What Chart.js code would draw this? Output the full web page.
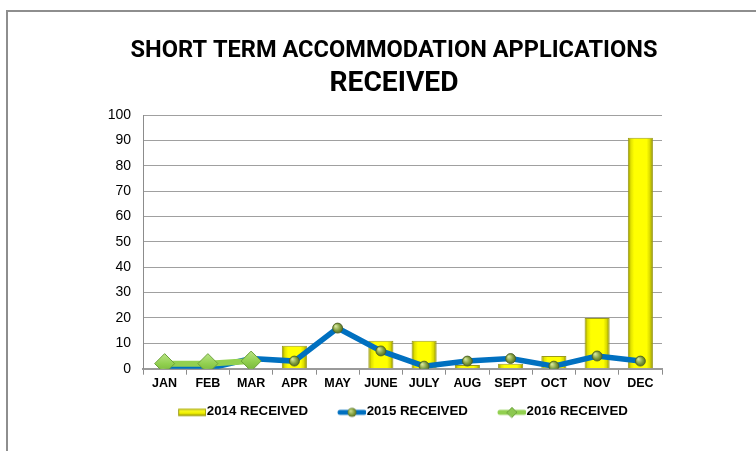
<!DOCTYPE html>
<html><head><meta charset="utf-8">
<script src="https://cdn.jsdelivr.net/npm/chart.js@4"></script>
<style>
html,body{margin:0;padding:0;background:#fff;overflow:hidden}
#wrap{position:relative;width:756px;height:451px;overflow:hidden}
#frame{position:absolute;left:6px;top:10px;width:800px;height:500px;border-left:2px solid #8e8e8e;border-top:2px solid #8e8e8e}
canvas{position:absolute;left:0;top:0}
</style></head>
<body><div id="wrap"><div id="frame"></div><canvas id="c" width="756" height="451"></canvas></div>
<script>
const titleLine1 = 'SHORT TERM ACCOMMODATION APPLICATIONS';
const titleLine2 = 'RECEIVED';
const categories = ['JAN','FEB','MAR','APR','MAY','JUNE','JULY','AUG','SEPT','OCT','NOV','DEC'];
const received2014 = [0, 0, 0, 9, 0, 11, 11, 1.5, 2, 5, 20, 91];
const received2015 = [0, 0, 4, 3, 16, 7, 1, 3, 4, 1, 5, 3];
const received2016 = [2, 2, 3];
const seriesNames = ['2014 RECEIVED', '2015 RECEIVED', '2016 RECEIVED'];
const yMin = 0, yMax = 100, yStep = 10;

// --- fonts
const mctx = document.createElement('canvas').getContext('2d');
function hasFont(name){
  mctx.font = 'bold 24px monospace'; const a = mctx.measureText('SHORT TERM ACCOM WwIi').width;
  mctx.font = 'bold 24px "' + name + '", monospace'; const b = mctx.measureText('SHORT TERM ACCOM WwIi').width;
  return Math.abs(a-b) > 0.5;
}
const titleFamily = hasFont('Liberation Sans Narrow') ? '"Liberation Sans Narrow"' : 'Roboto';
function fitSize(text, target){
  mctx.font = 'bold 100px ' + titleFamily;
  return 100 * target / mctx.measureText(text).width;
}
const t1Size = fitSize(titleLine1, 527);
const t2Size = fitSize(titleLine2, 129);
const LH = 1.2;
const t1Pad = 51 - t1Size*LH/2;
const t1Bottom = t1Pad + t1Size*LH;
const t2Top = 84 - t2Size*LH/2;
const t2PadTop = Math.max(0, t2Top - t1Bottom);
const t2PadBottom = 115 - (t1Bottom + t2PadTop + t2Size*LH);

// --- legend symbols
function legendCanvas(kind){
  const c = document.createElement('canvas'); c.width = 52; c.height = 16;
  const g = c.getContext('2d');
  const x0 = 24, x1 = 52, cy = 9;
  if (kind === 0){
    const gr = g.createLinearGradient(0, cy-4, 0, cy+4);
    gr.addColorStop(0,'#ffff40'); gr.addColorStop(0.6,'#f0f000'); gr.addColorStop(1,'#a0a000');
    g.fillStyle = gr; g.fillRect(x0, cy-3.5, 28, 7);
    g.strokeStyle = '#9a9a10'; g.lineWidth = 1; g.strokeRect(x0+0.5, cy-3, 27, 6);
  } else {
    g.strokeStyle = kind === 1 ? '#0070C0' : '#92D050';
    g.lineWidth = 5; g.lineCap = 'round';
    g.beginPath(); g.moveTo(x0+2, cy); g.lineTo(x1-2, cy); g.stroke();
    const mx = (x0+x1)/2;
    if (kind === 1){
      const rg = g.createRadialGradient(mx-1.5, cy-1.5, 0.5, mx, cy, 5);
      rg.addColorStop(0,'#c9dc8a'); rg.addColorStop(0.6,'#7d9a3a'); rg.addColorStop(1,'#4a5d23');
      g.fillStyle = rg; g.beginPath(); g.arc(mx, cy, 4.5, 0, Math.PI*2); g.fill();
    } else {
      g.fillStyle = '#8cc850'; g.strokeStyle = '#6ca23a'; g.lineWidth = 1;
      g.beginPath(); g.moveTo(mx-5, cy); g.lineTo(mx, cy-5); g.lineTo(mx+5, cy); g.lineTo(mx, cy+5); g.closePath(); g.fill(); g.stroke();
    }
  }
  return c;
}
const legendSymbols = [legendCanvas(0), legendCanvas(1), legendCanvas(2)];

// --- scriptable styles
function barGradient(ctx){
  const chart = ctx.chart, xs = chart.scales && chart.scales.x;
  if (!chart.chartArea || !xs || ctx.type !== 'data') return '#ffff00';
  const cx = xs.getPixelForValue(ctx.dataIndex);
  const w = xs.width / categories.length * 0.58;
  const g = chart.ctx.createLinearGradient(cx - w/2, 0, cx + w/2, 0);
  g.addColorStop(0, '#8a8a00'); g.addColorStop(0.12, '#e2e200'); g.addColorStop(0.25, '#ffff00');
  g.addColorStop(0.75, '#ffff00'); g.addColorStop(0.88, '#dada00'); g.addColorStop(1, '#808000');
  return g;
}
function sphere(ctx){
  const chart = ctx.chart, xs = chart.scales && chart.scales.x, ys = chart.scales && chart.scales.y;
  if (!chart.chartArea || !xs || ctx.type !== 'data') return '#7d9a3a';
  const x = xs.getPixelForValue(ctx.dataIndex), y = ys.getPixelForValue(ctx.raw);
  const g = chart.ctx.createRadialGradient(x-2, y-2, 0.5, x, y, 6);
  g.addColorStop(0, '#d4e59a'); g.addColorStop(0.55, '#7f9c3c'); g.addColorStop(1, '#46591f');
  return g;
}
function diamond(ctx){
  const chart = ctx.chart, ys = chart.scales && chart.scales.y;
  if (!chart.chartArea || !ys || ctx.type !== 'data') return '#92D050';
  const y = ys.getPixelForValue(ctx.raw);
  const g = chart.ctx.createLinearGradient(0, y-10, 0, y+10);
  g.addColorStop(0, '#b9e386'); g.addColorStop(0.5, '#92d050'); g.addColorStop(1, '#73b338');
  return g;
}

new Chart(document.getElementById('c'), {
  data: {
    labels: categories,
    datasets: [
      { type: 'bar', label: seriesNames[0], data: received2014, order: 3,
        backgroundColor: barGradient, borderColor: '#9c9c18', borderWidth: 1,
        barPercentage: 0.58, categoryPercentage: 1 },
      { type: 'line', label: seriesNames[1], data: received2015, order: 2,
        borderColor: '#0070C0', borderWidth: 5.5, tension: 0, fill: false,
        pointRadius: 5, pointBackgroundColor: sphere, pointBorderColor: '#4a5d23', pointBorderWidth: 0.8 },
      { type: 'line', label: seriesNames[2], data: received2016, order: 1,
        borderColor: '#92D050', borderWidth: 6, tension: 0, fill: false,
        pointStyle: 'rectRot', pointRadius: 10, pointBackgroundColor: diamond, pointBorderColor: '#6ca23a', pointBorderWidth: 1 }
    ]
  },
  options: {
    responsive: false, animation: false, devicePixelRatio: 1,
    layout: { padding: { left: 32, right: 0, top: 0, bottom: 23 } },
    plugins: {
      title: { display: true, text: titleLine1, color: '#000',
        font: { family: titleFamily, size: t1Size, weight: 'bold', lineHeight: LH },
        padding: { top: t1Pad, bottom: 0 } },
      subtitle: { display: true, text: titleLine2, color: '#000',
        font: { family: titleFamily, size: t2Size, weight: 'bold', lineHeight: LH },
        padding: { top: t2PadTop, bottom: t2PadBottom } },
      legend: { position: 'bottom',
        labels: { usePointStyle: true, pointStyleWidth: 40, padding: 12, color: '#000',
          font: { family: '"Liberation Sans", Arial, sans-serif', size: 13.3, weight: 'bold' },
          sort: (a, b) => a.datasetIndex - b.datasetIndex,
          generateLabels(chart){
            const items = Chart.defaults.plugins.legend.labels.generateLabels(chart);
            items.forEach((it) => { it.pointStyle = legendSymbols[it.datasetIndex]; });
            return items;
          } } },
      tooltip: { enabled: false }
    },
    scales: {
      x: {
        grid: { offset: true, drawOnChartArea: false, drawTicks: true, tickLength: 6, color: '#8c8c8c', lineWidth: 1 },
        border: { color: '#9a9a9a', width: 2 },
        ticks: { color: '#000', padding: 1.5, autoSkip: false, maxRotation: 0,
          font: { family: '"Liberation Sans", Arial, sans-serif', size: 12.5, weight: 'bold' } }
      },
      y: {
        min: yMin, max: yMax,
        grid: { color: '#a0a0a0', lineWidth: 1, drawTicks: false },
        border: { color: '#8c8c8c', width: 1 },
        ticks: { stepSize: yStep, color: '#000', padding: 12,
          font: { family: '"Liberation Sans", Arial, sans-serif', size: 14 } },
        afterFit(s){ s.width = 111; }
      },
      yR: {
        position: 'right', display: true, min: 0, max: 1,
        grid: { drawOnChartArea: false, drawTicks: false, display: false },
        border: { display: false },
        ticks: { display: false },
        afterFit(s){ s.width = 94; }
      }
    }
  }
});
</script>
</body></html>
